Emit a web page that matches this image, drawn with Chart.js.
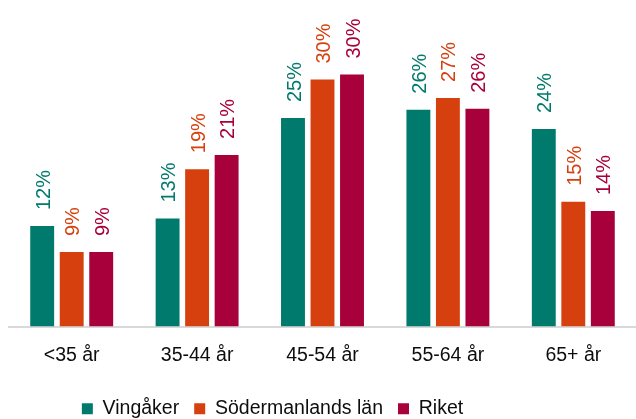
<!DOCTYPE html>
<html>
<head>
<meta charset="utf-8">
<script src="https://cdn.jsdelivr.net/npm/chart.js@4"></script>
<style>
  html, body { margin: 0; padding: 0; background: #ffffff; }
  #wrap { width: 636px; height: 419px; }
</style>
</head>
<body>
<div id="wrap"><canvas id="chart"></canvas></div>
<script>
const categories = ["<35 år", "35-44 år", "45-54 år", "55-64 år", "65+ år"];
const vingaker = [12.0, 12.9, 24.9, 25.9, 23.6];
const sodermanland = [8.9, 18.8, 29.5, 27.3, 14.9];
const riket = [8.9, 20.5, 30.1, 26.0, 13.8];
const seriesNames = ["Vingåker", "Södermanlands län", "Riket"];
const seriesColors = ["#007a6c", "#d6400f", "#a8003a"];

const FONT = "'Liberation Sans', Arial, sans-serif";

// rotated value labels above each bar
const barLabels = {
  id: "barLabels",
  afterDatasetsDraw(chart) {
    const ctx = chart.ctx;
    ctx.save();
    ctx.font = "20px " + FONT;
    ctx.textAlign = "left";
    ctx.textBaseline = "middle";
    chart.data.datasets.forEach((ds, i) => {
      chart.getDatasetMeta(i).data.forEach((bar, j) => {
        ctx.save();
        ctx.translate(bar.x + 2, bar.y - 16);
        ctx.rotate(-Math.PI / 2);
        ctx.fillStyle = ds.backgroundColor;
        ctx.fillText(Math.round(ds.data[j]) + "%", 0, 0);
        ctx.restore();
      });
    });
    ctx.restore();
  }
};

// legend sits a bit left of centre in the original
const legendShift = {
  id: "legendShift",
  afterLayout(chart) {
    const lg = chart.legend;
    lg.left -= 50;
    lg.right -= 50;
    lg.bottom = chart.height;
  }
};

new Chart(document.getElementById("chart"), {
  type: "bar",
  data: {
    labels: categories,
    datasets: [vingaker, sodermanland, riket].map((d, i) => ({
      label: seriesNames[i],
      data: d,
      backgroundColor: seriesColors[i],
      categoryPercentage: 0.706,
      barPercentage: 0.81
    }))
  },
  options: {
    responsive: true,
    maintainAspectRatio: false,
    animation: false,
    layout: { padding: { left: 9, right: 0, top: 0, bottom: 0 } },
    plugins: {
      tooltip: { enabled: false },
      legend: {
        position: "bottom",
        maxHeight: 35,
        labels: {
          boxWidth: 11,
          boxHeight: 11,
          padding: 15,
          color: "#0d0d0d",
          font: { family: FONT, size: 19.5 }
        }
      }
    },
    scales: {
      x: {
        grid: { display: false, drawTicks: false },
        border: { display: true, color: "#d9d9d9", width: 2 },
        ticks: {
          padding: 17,
          color: "#0d0d0d",
          font: { family: FONT, size: 19.5 }
        }
      },
      y: {
        display: false,
        min: 0,
        max: 39
      }
    }
  },
  plugins: [barLabels, legendShift]
});
</script>
</body>
</html>
